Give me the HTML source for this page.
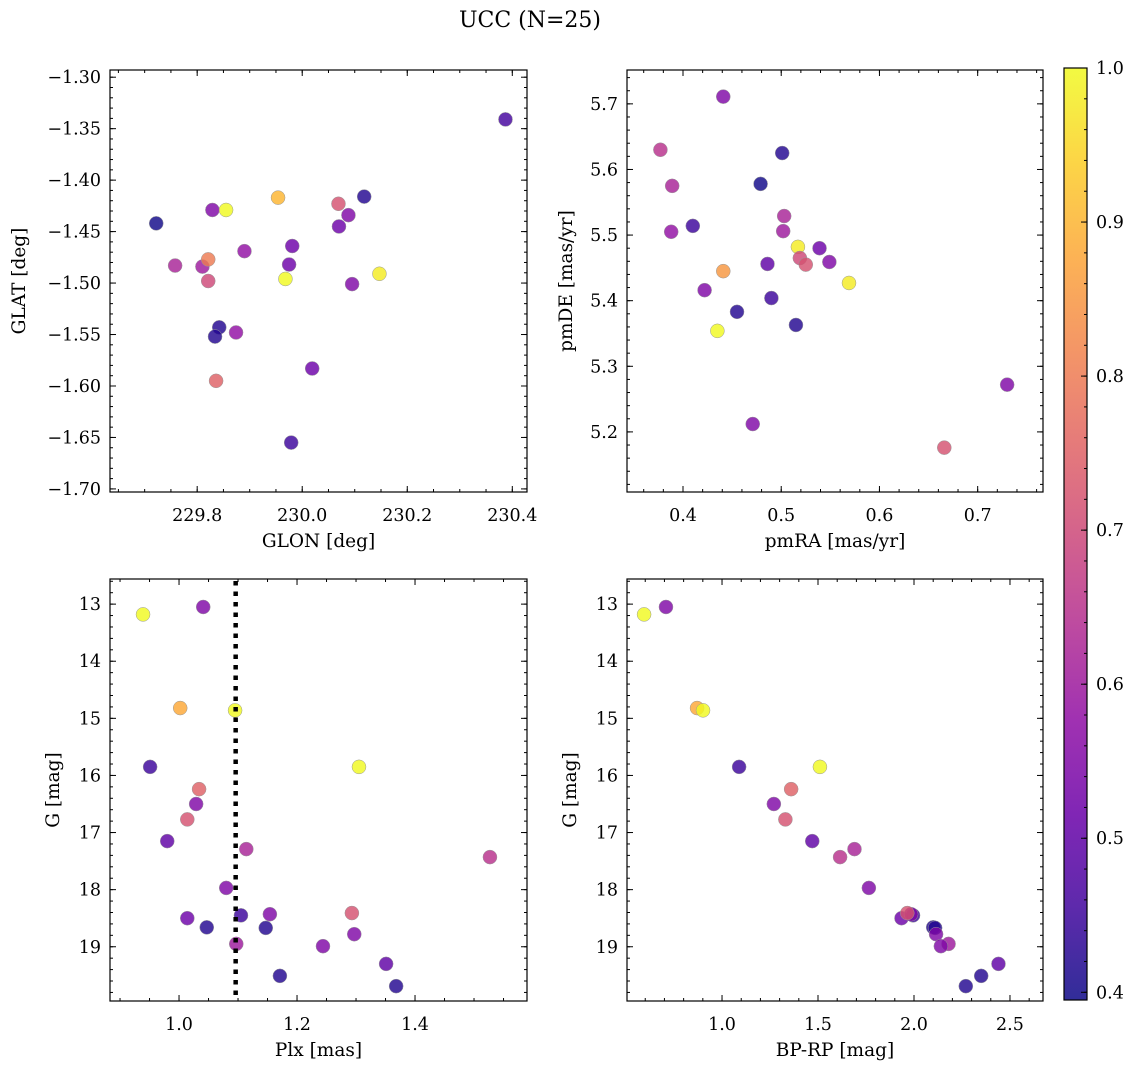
<!DOCTYPE html>
<html><head><meta charset="utf-8">
<style>
html,body{margin:0;padding:0;background:#fff;}
svg text{font-family:"DejaVu Serif","Liberation Serif",serif;fill:#000;}
</style></head>
<body>
<svg id="fig" width="1136" height="1068" viewBox="0 0 1136 1068" xmlns="http://www.w3.org/2000/svg">
<text x="530" y="27" font-size="22" text-anchor="middle">UCC (N=25)</text>
</svg>
<script>
// Panel 1: GLON / GLAT
const glon = [230.387,229.722,229.829,229.855,229.954,230.069,230.088,230.118,230.070,229.758,229.810,229.821,229.821,229.890,229.981,229.975,229.968,230.147,230.095,229.842,229.834,229.874,230.019,229.836,229.979];
const glat = [-1.341,-1.442,-1.429,-1.429,-1.417,-1.423,-1.434,-1.416,-1.445,-1.483,-1.484,-1.477,-1.498,-1.469,-1.464,-1.482,-1.496,-1.491,-1.501,-1.543,-1.552,-1.548,-1.583,-1.595,-1.655];
const prob1 = [0.46,0.40,0.55,1.0,0.90,0.72,0.55,0.42,0.52,0.62,0.60,0.80,0.70,0.58,0.52,0.52,1.0,0.98,0.55,0.42,0.42,0.58,0.52,0.75,0.45];
// Panel 2: pmRA / pmDE
const pmra = [0.441,0.377,0.501,0.389,0.479,0.410,0.388,0.503,0.502,0.517,0.539,0.519,0.525,0.549,0.486,0.441,0.569,0.422,0.490,0.455,0.515,0.435,0.471,0.730,0.666];
const pmde = [5.711,5.630,5.625,5.575,5.578,5.514,5.505,5.529,5.506,5.482,5.480,5.465,5.455,5.459,5.456,5.445,5.427,5.416,5.404,5.383,5.363,5.354,5.212,5.272,5.176];
const prob2 = [0.55,0.65,0.42,0.62,0.40,0.45,0.58,0.62,0.60,0.98,0.52,0.70,0.72,0.55,0.50,0.85,0.98,0.55,0.45,0.42,0.42,1.0,0.55,0.55,0.72];
// Panels 3 & 4: Plx, BP-RP, G
const plx  = [0.939,1.041,1.002,1.095,0.951,1.305,1.034,1.029,1.014,0.980,1.114,1.527,1.080,1.014,1.105,1.154,1.293,1.047,1.147,1.297,1.097,1.244,1.351,1.171,1.368];
const bprp = [0.594,0.708,0.870,0.901,1.089,1.510,1.360,1.270,1.330,1.470,1.690,1.615,1.765,1.935,1.995,1.985,1.965,2.100,2.110,2.115,2.180,2.140,2.440,2.350,2.270];
const gmag = [13.18,13.05,14.82,14.86,15.85,15.85,16.24,16.50,16.77,17.15,17.29,17.43,17.97,18.50,18.45,18.43,18.41,18.66,18.67,18.78,18.95,18.99,19.30,19.51,19.69];
const prob3 = [1.0,0.55,0.88,1.0,0.45,1.0,0.75,0.55,0.72,0.50,0.62,0.65,0.55,0.52,0.45,0.55,0.72,0.42,0.42,0.55,0.60,0.55,0.50,0.42,0.42];
const plxLine = 1.096;
const cbTicks = [0.4,0.5,0.6,0.7,0.8,0.9,1.0];

const NS="http://www.w3.org/2000/svg";
const svg=document.getElementById('fig');
function el(tag,attrs,parent){const e=document.createElementNS(NS,tag);for(const k in attrs)e.setAttribute(k,attrs[k]);(parent||svg).appendChild(e);return e;}
const vmin=0.395,vmax=1.0;
const stops=[[13,8,135],[65,4,157],[106,0,168],[143,13,164],[177,42,144],[204,71,120],[225,100,98],[242,132,75],[252,166,54],[252,206,37],[240,249,33]];
function plasma(v){let t=(v-vmin)/(vmax-vmin);t=Math.max(0,Math.min(1,t))*10;const i=Math.min(9,Math.floor(t)),f=t-i;const a=stops[i],b=stops[i+1];
 return 'rgb('+a.map((c,k)=>Math.round(c+(b[k]-c)*f)).join(',')+')';}
function fmt(v,d){return v.toFixed(d).replace('-','\u2212');}
const TF=17.5, LF=18.5;

function panel(name,box,xr,yr,xt,yt,xminor,yminor,xd,yd,xlabel,ylabel,ylx,xs,ys,ps,invY){
 const [L,T,R,B]=box;
 const sx=v=>L+(v-xr[0])/(xr[1]-xr[0])*(R-L);
 const sy=invY?(v=>T+(v-yr[0])/(yr[1]-yr[0])*(B-T)):(v=>B-(v-yr[0])/(yr[1]-yr[0])*(B-T));
 const g=el('g',{});
 
 
 const pts=el('g',{},g);
 
 
 xs.forEach((x,i)=>{const c=el('circle',{cx:sx(x),cy:sy(ys[i]),r:7,fill:plasma(ps[i]),'fill-opacity':0.82,stroke:'#999','stroke-width':0.5},pts);
  
  });
 const ax=el('g',{},g);
 
 
 const ticksX=(vals,len)=>vals.forEach(v=>{const x=sx(v);if(x<L-0.5||x>R+0.5)return;el('line',{x1:x,y1:B,x2:x,y2:B-len,stroke:'#000','stroke-width':1},ax);el('line',{x1:x,y1:T,x2:x,y2:T+len,stroke:'#000','stroke-width':1},ax);});
 const ticksY=(vals,len)=>vals.forEach(v=>{const y=sy(v);if(y<T-0.5||y>B+0.5)return;el('line',{x1:L,y1:y,x2:L+len,y2:y,stroke:'#000','stroke-width':1},ax);el('line',{x1:R,y1:y,x2:R-len,y2:y,stroke:'#000','stroke-width':1},ax);});
 const mk=(r,st)=>{const a=[];const s=Math.ceil(r[0]/st-1e-9);for(let k=s;k*st<=r[1]+1e-9;k++)a.push(k*st);return a;};
 const [ya,yb]=[Math.min(...yr),Math.max(...yr)];
 ticksX(mk(xr,xminor),3);ticksY(mk([ya,yb],yminor),3);
 ticksX(xt,6);ticksY(yt,6);
 el('rect',{x:L,y:T,width:R-L,height:B-T,fill:'none',stroke:'#000','stroke-width':1.2},ax);
 xt.forEach(v=>{const t=el('text',{x:sx(v),y:B+29,'font-size':TF,'text-anchor':'middle'},ax);t.textContent=fmt(v,xd);
  });
 yt.forEach(v=>{const t=el('text',{x:L-9,y:sy(v)+6,'font-size':TF,'text-anchor':'end'},ax);t.textContent=fmt(v,yd);
  });
 const xl=el('text',{x:(L+R)/2,y:B+55,'font-size':LF,'text-anchor':'middle'},ax);xl.textContent=xlabel;
 
 const cy=(T+B)/2;
 const yl=el('text',{x:ylx,y:cy,'font-size':LF,'text-anchor':'middle',transform:'rotate(-90 '+ylx+' '+cy+')'},ax);yl.textContent=ylabel;
 
 return {sx,sy,g};
}
const p1=panel('glon-glat-panel',[110,70,527,492],[229.634,230.428],[-1.703,-1.293],[229.8,230.0,230.2,230.4],[-1.30,-1.35,-1.40,-1.45,-1.50,-1.55,-1.60,-1.65,-1.70],0.05,0.01,1,2,'GLON [deg]','GLAT [deg]',25,glon,glat,prob1,false);
const p2=panel('pm-panel',[627,70,1043,492],[0.343,0.7665],[5.1084,5.7516],[0.4,0.5,0.6,0.7],[5.2,5.3,5.4,5.5,5.6,5.7],0.02,0.02,1,1,'pmRA [mas/yr]','pmDE [mas/yr]',572,pmra,pmde,prob2,false);
const p3=panel('plx-g-panel',[110,579,527,1001],[0.883,1.5898],[12.56,19.95],[1.0,1.2,1.4],[13,14,15,16,17,18,19],0.05,0.2,1,0,'Plx [mas]','G [mag]',59,plx,gmag,prob3,true);
const p4=panel('cmd-panel',[627,579,1043,1001],[0.505,2.672],[12.56,19.95],[1.0,1.5,2.0,2.5],[13,14,15,16,17,18,19],0.1,0.2,1,0,'BP-RP [mag]','G [mag]',576,bprp,gmag,prob3,true);
// dotted plx line
const dl=el('line',{x1:p3.sx(plxLine),y1:581,x2:p3.sx(plxLine),y2:1000,stroke:'#000','stroke-width':4.5,'stroke-dasharray':'4.5 6'});


// colorbar
const cb=el('g',{});


const defs=el('defs',{},cb);
const lg=el('linearGradient',{id:'cbg',x1:0,y1:1,x2:0,y2:0},defs);
for(let k=0;k<=20;k++){const v=vmin+(vmax-vmin)*k/20;el('stop',{offset:k/20,'stop-color':plasma(v),'stop-opacity':0.85},lg);}
const CL=1064,CR=1087,CT=68,CB=1000;
const cyf=v=>CB-(v-vmin)/(vmax-vmin)*(CB-CT);
el('rect',{x:CL,y:CT,width:CR-CL,height:CB-CT,fill:'url(#cbg)',stroke:'#000','stroke-width':1.2},cb);
for(let k=20;k<=50;k++){const v=k*0.02;if(v<vmin||v>vmax+1e-9)continue;el('line',{x1:CR,y1:cyf(v),x2:CR-3,y2:cyf(v),stroke:'#000','stroke-width':1},cb);}
cbTicks.forEach(v=>{el('line',{x1:CR,y1:cyf(v),x2:CR-6,y2:cyf(v),stroke:'#000','stroke-width':1},cb);
 const t=el('text',{x:CR+9,y:cyf(v)+6,'font-size':TF},cb);t.textContent=v.toFixed(1);
 });
</script>
</body></html>
